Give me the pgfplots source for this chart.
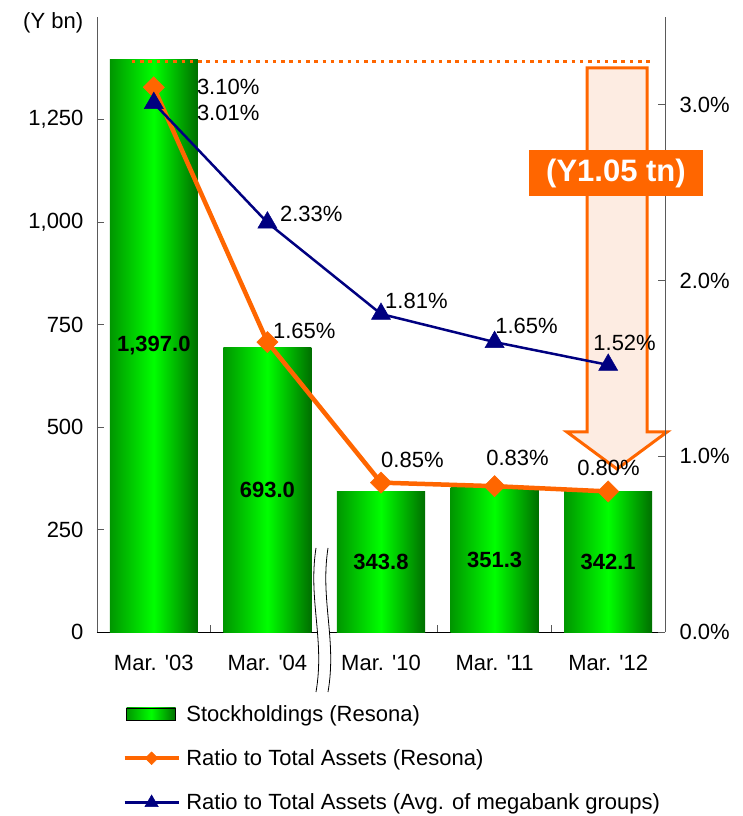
\documentclass[border=0pt]{standalone}
\usepackage{pgfplots}
\pgfplotsset{compat=1.18}
\usepackage{fontspec}
\setmainfont{Liberation Sans}

\definecolor{barEdgeL}{RGB}{0,150,0}
\definecolor{barEdgeR}{RGB}{0,110,0}
\definecolor{barMid}{RGB}{0,255,0}
\definecolor{resona}{RGB}{255,102,0}
\definecolor{mega}{RGB}{0,0,128}
\definecolor{peach}{RGB}{253,236,226}
\definecolor{axgray}{RGB}{90,90,90}

\newcommand\fs{\fontsize{22}{26}\selectfont}
\tikzset{
  barshade/.style={left color=barEdgeL,right color=barEdgeR,middle color=barMid},
  pl/.style={anchor=west,inner sep=0pt,font=\fs},
}
% position measured from the top left of the whole figure, in pt
\newcommand\px[2]{({(#1-97)*1pt},{(632-#2)*1pt})}

\pgfplotsset{
  base/.style={
    width=568pt,height=615pt,scale only axis,
    xmin=-0.5,xmax=4.5,
    clip=false,
    /pgf/number format/assume math mode=true,
    tick label style={font=\fs},
    tick align=inside,
    major tick length=7pt,
  },
  stock/.style={ybar,bar width=88pt,bar shift=0pt,draw=none,barshade},
}

\begin{document}
\begin{tikzpicture}
% ---------- stockholdings (left axis) ----------
\begin{axis}[base,name=ax,
  ymin=0,ymax=1500,
  axis y line*=left,axis x line*=bottom,
  x axis line style={black,line width=0.8pt},
  y axis line style={axgray,line width=0.8pt},
  ytick={0,250,500,750,1000,1250},
  yticklabels={0,250,500,750,{1,000},{1,250}},
  yticklabel style={xshift=-10pt},
  ytick style={axgray,line width=0.8pt},
  xtick={0.5,2.5,3.5},
  xticklabels={},
  xtick style={axgray,line width=0.8pt},
  extra x ticks={0,1,2,3,4},
  extra x tick labels={Mar. \textquotesingle03,Mar. \textquotesingle04,Mar. \textquotesingle10,Mar. \textquotesingle11,Mar. \textquotesingle12},
  extra x tick style={major tick length=0pt,xticklabel style={yshift=-20pt}},
]
% one plot per bar so each bar gets its own cylinder shading
\addplot[stock] coordinates {(0,1397.0)};
\addplot[stock] coordinates {(1,693.0)};
\addplot[stock] coordinates {(2,343.8)};
\addplot[stock] coordinates {(3,351.3)};
\addplot[stock] coordinates {(4,342.1)};
\draw[resona,line width=3pt,dash pattern=on 3.5pt off 4.8pt]
  (axis cs:-0.194,1392) -- (axis cs:4.39,1392);
\node[font=\fs\bfseries] at (axis cs:0,698.5) {1,397.0};
\node[font=\fs\bfseries] at (axis cs:1,346.5) {693.0};
\node[font=\fs\bfseries] at (axis cs:2,171.9) {343.8};
\node[font=\fs\bfseries] at (axis cs:3,175.65) {351.3};
\node[font=\fs\bfseries] at (axis cs:4,171.05) {342.1};
\end{axis}

% ---------- reduction arrow ----------
\begin{scope}[shift={(ax.south west)}]
\draw[resona,fill=peach,line width=3pt,line join=miter]
  \px{587}{68} -- \px{647}{68} -- \px{647}{432} -- \px{667}{432}
  -- \px{617}{469} -- \px{567}{432} -- \px{587}{432} -- cycle;
\end{scope}

% ---------- ratios (right axis) ----------
\begin{axis}[base,
  ymin=0,ymax=3.5,
  axis y line*=right,axis x line=none,
  y axis line style={axgray,line width=0.8pt},
  ytick={0,1,2,3},
  yticklabels={0.0\%,1.0\%,2.0\%,3.0\%},
  yticklabel style={xshift=11pt},
  ytick style={axgray,line width=0.8pt},
  legend cell align=left,
  legend style={at={(0.039,-0.112)},anchor=north west,draw=none,fill=none,
    font=\fs,row sep=23pt,
    nodes={inner xsep=5.5pt}},
]
\addlegendimage{legend image code/.code={\shade[barshade] (2pt,-6pt) rectangle (51pt,6pt);}}
\addlegendentry{Stockholdings (Resona)}
\addplot[resona,line width=4.5pt,mark=square*,mark size=7.5pt,
  mark options={rotate=45,line width=0.5pt,fill=resona},
  legend image code/.code={\draw[mark repeat=2,mark phase=2,
      mark options={scale=0.6,rotate=45,line width=0.5pt,fill=resona}]
    plot coordinates {(0pt,0pt) (27pt,0pt) (54pt,0pt)};}]
  coordinates {(0,3.10) (1,1.65) (2,0.85) (3,0.83) (4,0.80)};
\addlegendentry{Ratio to Total Assets (Resona)}
\addplot[mega,line width=2.5pt,mark=triangle*,mark size=11pt,
  mark options={line width=0.5pt,fill=mega},
  legend image code/.code={\draw[mark repeat=2,mark phase=2,
      mark options={scale=0.7,line width=0.5pt,fill=mega}]
    plot coordinates {(0pt,0pt) (27pt,0pt) (54pt,0pt)};}]
  coordinates {(0,3.01) (1,2.33) (2,1.81) (3,1.65) (4,1.52)};
\addlegendentry{Ratio to Total Assets (Avg. of megabank groups)}
% value labels
\node[pl,xshift=43pt] at (axis cs:0,3.10) {3.10\%};
\node[pl,xshift=5.5pt,yshift=11pt] at (axis cs:1,1.65) {1.65\%};
\node[pl,yshift=22.7pt] at (axis cs:2,0.85) {0.85\%};
\node[pl,xshift=-8.5pt,yshift=28pt] at (axis cs:3,0.83) {0.83\%};
\node[pl,xshift=-31pt,yshift=24pt] at (axis cs:4,0.80) {0.80\%};
\node[pl,xshift=43pt,yshift=-10pt] at (axis cs:0,3.01) {3.01\%};
\node[pl,xshift=12.5pt,yshift=8.6pt] at (axis cs:1,2.33) {2.33\%};
\node[pl,xshift=4pt,yshift=13pt] at (axis cs:2,1.81) {1.81\%};
\node[pl,xshift=0.5pt,yshift=16pt] at (axis cs:3,1.65) {1.65\%};
\node[pl,xshift=-15pt,yshift=22pt] at (axis cs:4,1.52) {1.52\%};
\end{axis}

% ---------- annotations ----------
\begin{scope}[shift={(ax.south west)}]
% axis break between Mar. '04 and Mar. '10
\fill[white] \px{316}{548} .. controls \px{308}{600} and \px{325}{640} .. \px{316}{692}
  -- \px{328}{692} .. controls \px{337}{640} and \px{320}{600} .. \px{328}{548} -- cycle;
\draw[black,line width=0.8pt] \px{316}{548} .. controls \px{308}{600} and \px{325}{640} .. \px{316}{692};
\draw[black,line width=0.8pt] \px{328}{548} .. controls \px{320}{600} and \px{337}{640} .. \px{328}{692};
% total reduction
\node[fill=resona,text=white,font=\fontsize{31}{36}\selectfont\bfseries,
  minimum width=174pt,minimum height=46pt,inner sep=0pt] at \px{616}{173} {(Y1.05 tn)};
% unit
\node[anchor=west,inner sep=0pt,font=\fs] at \px{23}{23} {(Y bn)};
\end{scope}

\pgfresetboundingbox
\path (ax.south west) ++(-97pt,-184pt) rectangle ++(743pt,816pt);
\end{tikzpicture}
\end{document}
